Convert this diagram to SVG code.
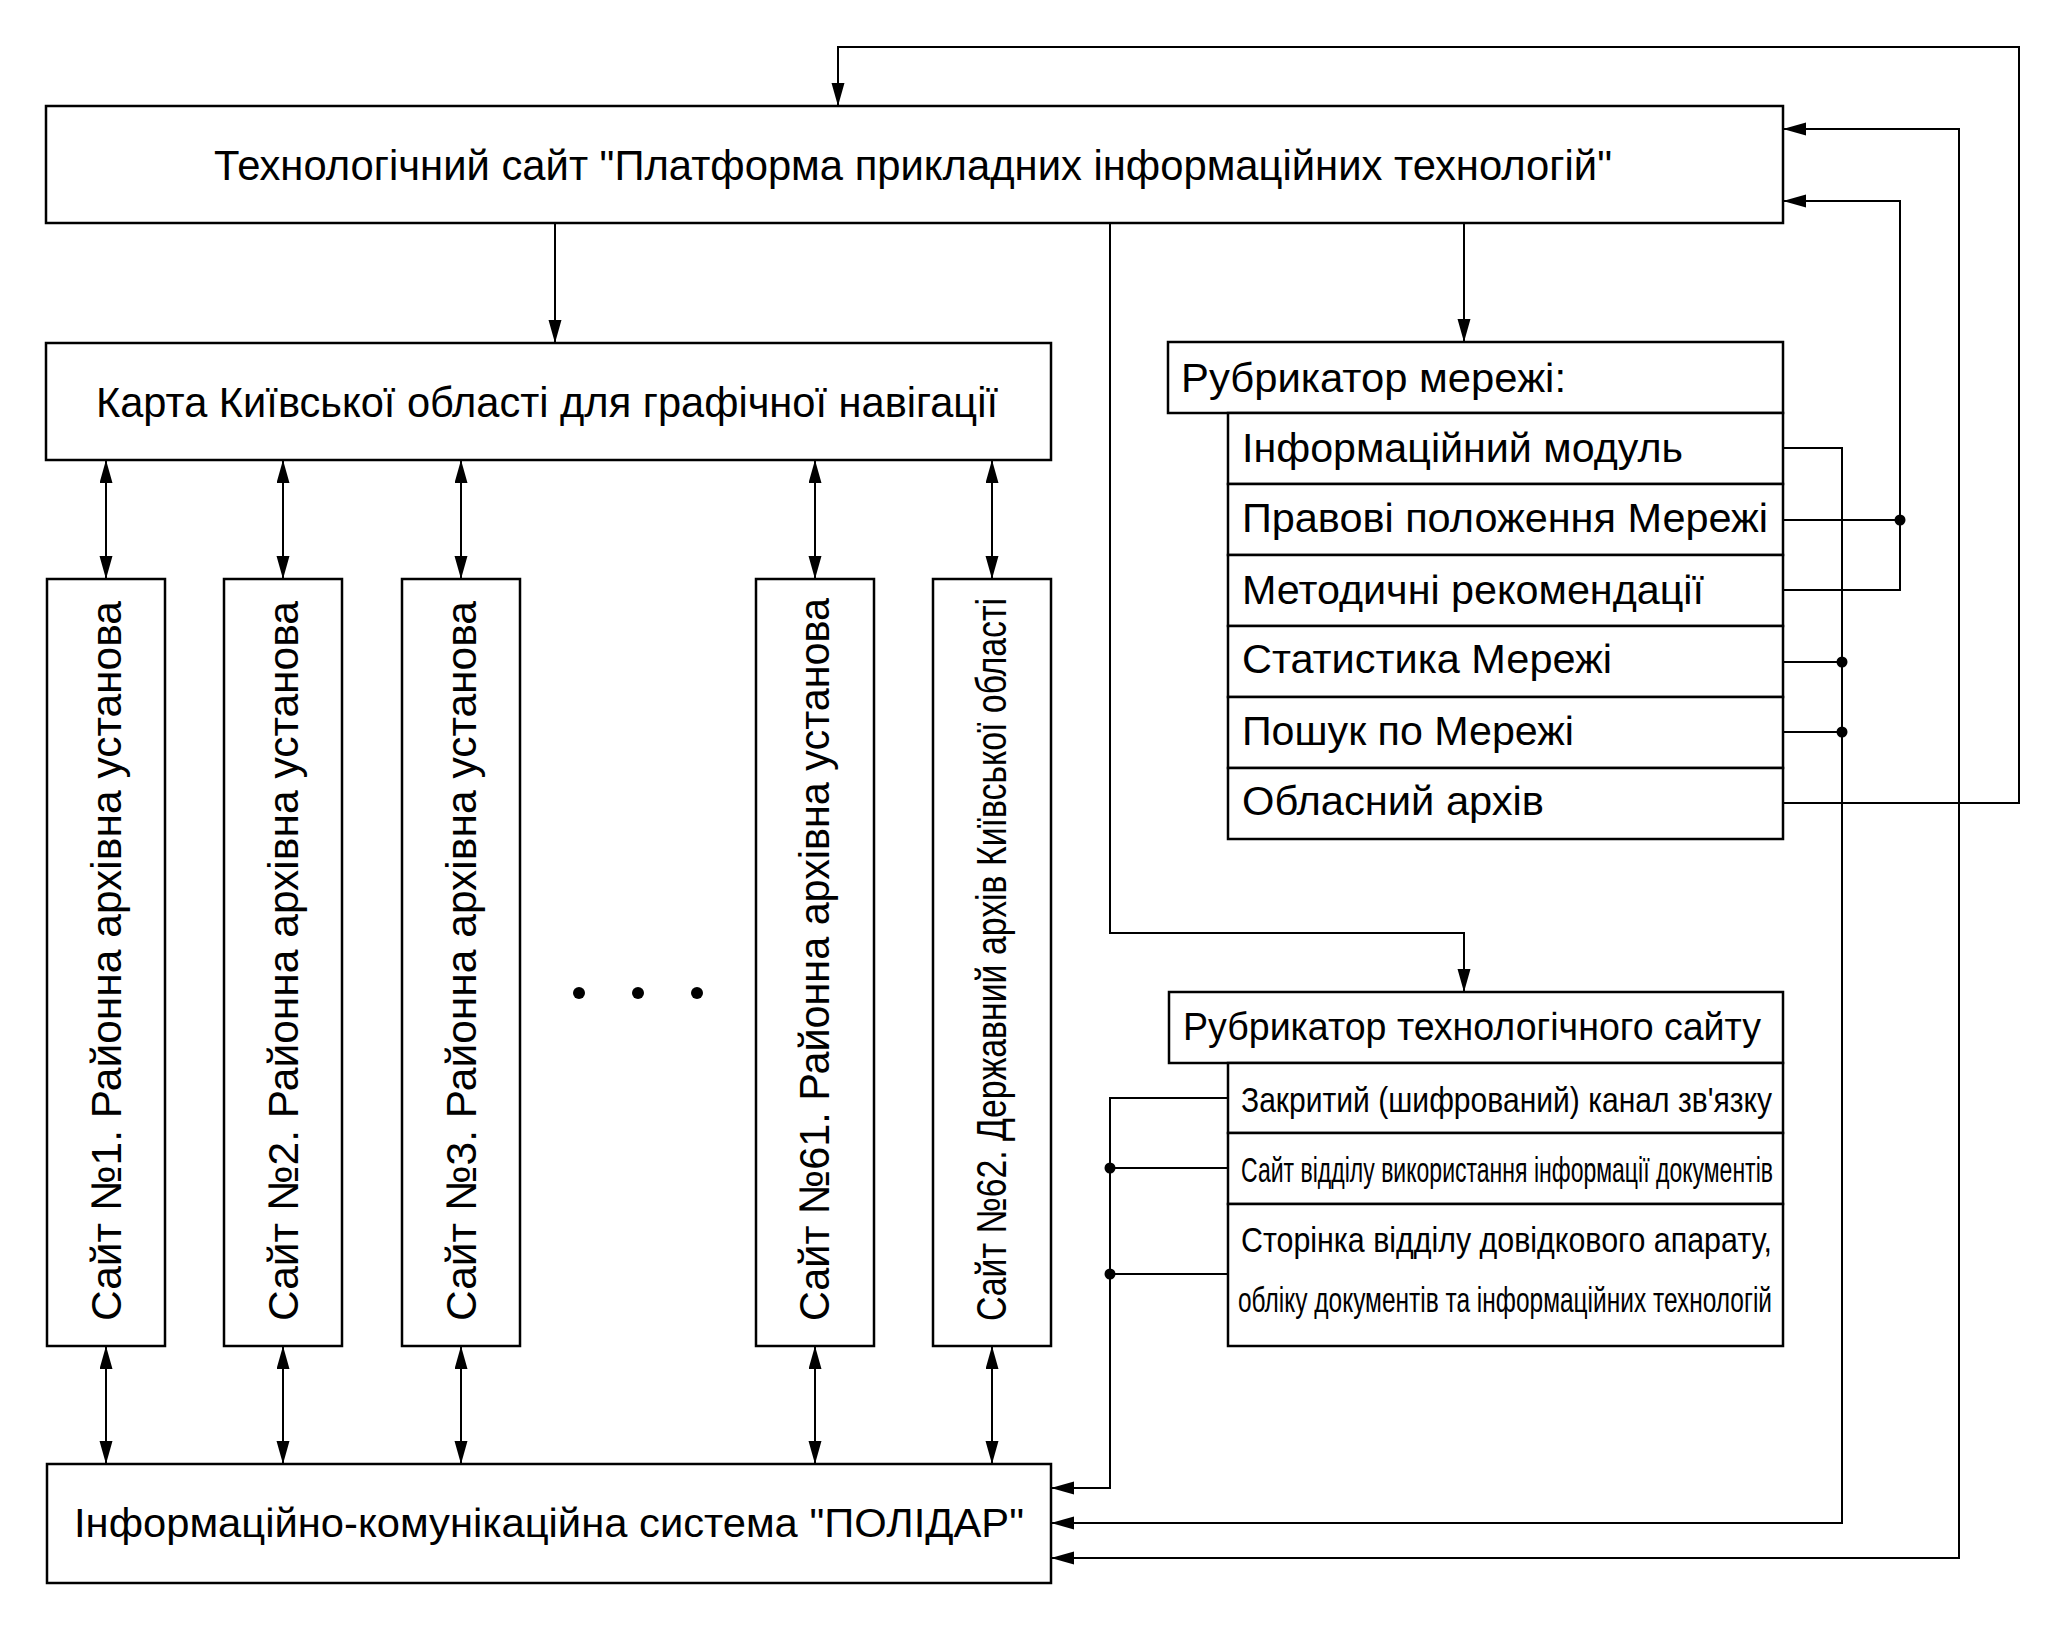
<svg xmlns="http://www.w3.org/2000/svg" width="2067" height="1630" viewBox="0 0 2067 1630">
<style>
.box{fill:#fff;stroke:#000;stroke-width:2.5}
.ln{fill:none;stroke:#000;stroke-width:2}
.t{font-family:"Liberation Sans",Arial,sans-serif;fill:#000}
</style>
<defs>
<marker id="ah" markerUnits="userSpaceOnUse" markerWidth="24" markerHeight="14" refX="23" refY="6.5" orient="auto-start-reverse">
<path d="M0,0 L23,6.5 L0,13 z" fill="#000"/>
</marker>
</defs>
<rect width="2067" height="1630" fill="#fff"/>

<g id="connectors">
<path class="ln" d="M555,223 V343" marker-end="url(#ah)"/>
<path class="ln" d="M1464,223 V342" marker-end="url(#ah)"/>
<path class="ln" d="M1110,223 V933 H1464 V992" marker-end="url(#ah)"/>
<path class="ln" d="M106,579 V460" marker-start="url(#ah)" marker-end="url(#ah)"/>
<path class="ln" d="M283,579 V460" marker-start="url(#ah)" marker-end="url(#ah)"/>
<path class="ln" d="M461,579 V460" marker-start="url(#ah)" marker-end="url(#ah)"/>
<path class="ln" d="M815,579 V460" marker-start="url(#ah)" marker-end="url(#ah)"/>
<path class="ln" d="M992,579 V460" marker-start="url(#ah)" marker-end="url(#ah)"/>
<path class="ln" d="M106,1464 V1346" marker-start="url(#ah)" marker-end="url(#ah)"/>
<path class="ln" d="M283,1464 V1346" marker-start="url(#ah)" marker-end="url(#ah)"/>
<path class="ln" d="M461,1464 V1346" marker-start="url(#ah)" marker-end="url(#ah)"/>
<path class="ln" d="M815,1464 V1346" marker-start="url(#ah)" marker-end="url(#ah)"/>
<path class="ln" d="M992,1464 V1346" marker-start="url(#ah)" marker-end="url(#ah)"/>
<path class="ln" d="M1783,803 H2019 V47 H838 V106" marker-end="url(#ah)"/>
<path class="ln" d="M1783,129 H1959 V1558 H1051" marker-start="url(#ah)" marker-end="url(#ah)"/>
<path class="ln" d="M1783,590 H1900 V201 H1783" marker-end="url(#ah)"/>
<path class="ln" d="M1783,520 H1900"/>
<path class="ln" d="M1783,448 H1842 V1523 H1051" marker-end="url(#ah)"/>
<path class="ln" d="M1783,662 H1842"/>
<path class="ln" d="M1783,732 H1842"/>
<path class="ln" d="M1228,1098 H1110 V1488 H1051" marker-end="url(#ah)"/>
<path class="ln" d="M1228,1168 H1110"/>
<path class="ln" d="M1228,1274 H1110"/>
<circle cx="1900" cy="520" r="5.5"/>
<circle cx="1842" cy="662" r="5.5"/>
<circle cx="1842" cy="732" r="5.5"/>
<circle cx="1110" cy="1168" r="5.5"/>
<circle cx="1110" cy="1274" r="5.5"/>
</g>

<g id="dots">
<circle cx="579" cy="993" r="6"/>
<circle cx="638" cy="993" r="6"/>
<circle cx="697" cy="993" r="6"/>
</g>

<g id="tech-site">
<rect class="box" x="46" y="106" width="1737" height="117"/>
<text class="t" x="214" y="180" font-size="42" textLength="1398" lengthAdjust="spacingAndGlyphs">Технологічний сайт "Платформа прикладних інформаційних технологій"</text>
</g>

<g id="map">
<rect class="box" x="46" y="343" width="1005" height="117"/>
<text class="t" x="96" y="417" font-size="42" textLength="902" lengthAdjust="spacingAndGlyphs">Карта Київської області для графічної навігації</text>
</g>

<g id="site1">
<rect class="box" x="47" y="579" width="118" height="767"/>
<text class="t" transform="translate(121,1321) rotate(-90)" font-size="43" textLength="720" lengthAdjust="spacingAndGlyphs">Сайт №1.  Районна архівна установа</text>
</g>
<g id="site2">
<rect class="box" x="224" y="579" width="118" height="767"/>
<text class="t" transform="translate(298,1321) rotate(-90)" font-size="43" textLength="720" lengthAdjust="spacingAndGlyphs">Сайт №2. Районна архівна установа</text>
</g>
<g id="site3">
<rect class="box" x="402" y="579" width="118" height="767"/>
<text class="t" transform="translate(476,1321) rotate(-90)" font-size="43" textLength="720" lengthAdjust="spacingAndGlyphs">Сайт №3. Районна архівна установа</text>
</g>
<g id="site61">
<rect class="box" x="756" y="579" width="118" height="767"/>
<text class="t" transform="translate(829,1321) rotate(-90)" font-size="43" textLength="723" lengthAdjust="spacingAndGlyphs">Сайт №61. Районна архівна установа</text>
</g>
<g id="site62">
<rect class="box" x="933" y="579" width="118" height="767"/>
<text class="t" transform="translate(1006,1321) rotate(-90)" font-size="42" textLength="723" lengthAdjust="spacingAndGlyphs">Сайт №62. Державний архів Київської області</text>
</g>

<g id="polidar">
<rect class="box" x="47" y="1464" width="1004" height="119"/>
<text class="t" x="74" y="1537" font-size="40" textLength="950" lengthAdjust="spacingAndGlyphs">Інформаційно-комунікаційна система "ПОЛІДАР"</text>
</g>

<g id="network-rubricator">
<rect class="box" x="1168" y="342" width="615" height="71"/>
<text class="t" x="1181" y="392" font-size="40" textLength="385" lengthAdjust="spacingAndGlyphs">Рубрикатор мережі:</text>
<rect class="box" x="1228" y="413" width="555" height="71"/>
<text class="t" x="1242" y="462" font-size="40" textLength="441" lengthAdjust="spacingAndGlyphs">Інформаційний модуль</text>
<rect class="box" x="1228" y="484" width="555" height="71"/>
<text class="t" x="1242" y="532" font-size="40" textLength="526" lengthAdjust="spacingAndGlyphs">Правові положення Мережі</text>
<rect class="box" x="1228" y="555" width="555" height="71"/>
<text class="t" x="1242" y="604" font-size="40" textLength="462" lengthAdjust="spacingAndGlyphs">Методичні рекомендації</text>
<rect class="box" x="1228" y="626" width="555" height="71"/>
<text class="t" x="1242" y="673" font-size="40" textLength="370" lengthAdjust="spacingAndGlyphs">Статистика Мережі</text>
<rect class="box" x="1228" y="697" width="555" height="71"/>
<text class="t" x="1242" y="745" font-size="40" textLength="332" lengthAdjust="spacingAndGlyphs">Пошук по Мережі</text>
<rect class="box" x="1228" y="768" width="555" height="71"/>
<text class="t" x="1242" y="815" font-size="40" textLength="302" lengthAdjust="spacingAndGlyphs">Обласний архів</text>
</g>

<g id="tech-rubricator">
<rect class="box" x="1169" y="992" width="614" height="71"/>
<text class="t" x="1183" y="1040" font-size="38" textLength="578" lengthAdjust="spacingAndGlyphs">Рубрикатор технологічного сайту</text>
<rect class="box" x="1228" y="1063" width="555" height="70"/>
<text class="t" x="1241" y="1112" font-size="35" textLength="531" lengthAdjust="spacingAndGlyphs">Закритий (шифрований) канал зв'язку</text>
<rect class="box" x="1228" y="1133" width="555" height="71"/>
<text class="t" x="1241" y="1182" font-size="35" textLength="532" lengthAdjust="spacingAndGlyphs">Сайт відділу використання інформації документів</text>
<rect class="box" x="1228" y="1204" width="555" height="142"/>
<text class="t" x="1241" y="1252" font-size="35" textLength="531" lengthAdjust="spacingAndGlyphs">Сторінка відділу довідкового апарату,</text>
<text class="t" x="1238" y="1312" font-size="35" textLength="534" lengthAdjust="spacingAndGlyphs">обліку документів та інформаційних технологій</text>
</g>
</svg>
